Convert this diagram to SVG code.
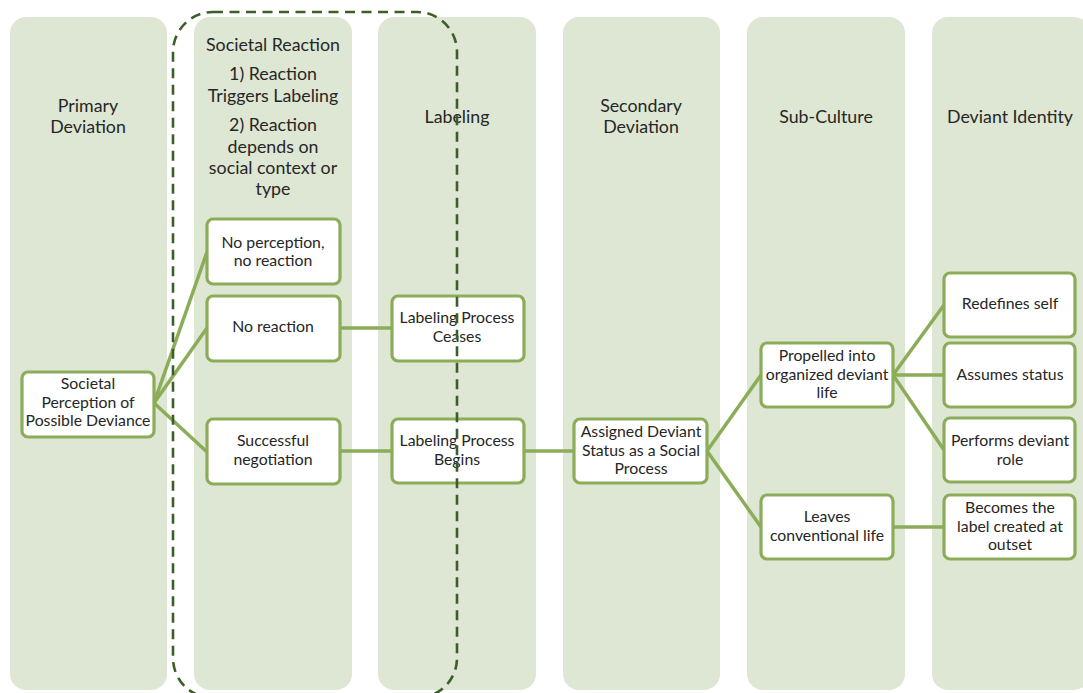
<svg xmlns="http://www.w3.org/2000/svg" width="1083" height="693" viewBox="0 0 1083 693">
  <style>
    .col { fill: #dee7d3; }
    .box { fill: #ffffff; stroke: #8bad59; stroke-width: 3.2; }
    .link { fill: none; stroke: #8bad59; stroke-width: 3.5; }
    .hdr { font-family: Lato, "Open Sans", "Liberation Sans", sans-serif; font-size: 17.8px; fill: #262626; text-anchor: middle; }
    .lbl { font-family: Lato, "Open Sans", "Liberation Sans", sans-serif; font-size: 15.8px; fill: #262626; text-anchor: middle; }
    .group { fill: none; stroke: #3b5e2a; stroke-width: 2.6; stroke-dasharray: 10 6.5; }
  </style>

  <!-- stage columns -->
  <g id="stages">
    <g id="col-primary">
      <rect class="col" x="10" y="17" width="157" height="673" rx="16"/>
      <text class="hdr" x="88"><tspan x="88" y="112">Primary</tspan><tspan x="88" y="133">Deviation</tspan></text>
    </g>
    <g id="col-reaction">
      <rect class="col" x="194" y="17" width="158" height="673" rx="16"/>
      <text class="hdr" x="273"><tspan x="273" y="51">Societal Reaction</tspan><tspan x="273" y="80">1) Reaction</tspan><tspan x="273" y="102">Triggers Labeling</tspan><tspan x="273" y="131">2) Reaction</tspan><tspan x="273" y="153">depends on</tspan><tspan x="273" y="174">social context or</tspan><tspan x="273" y="195">type</tspan></text>
    </g>
    <g id="col-labeling">
      <rect class="col" x="378" y="17" width="158" height="673" rx="16"/>
      <text class="hdr" x="457" y="123">Labeling</text>
    </g>
    <g id="col-secondary">
      <rect class="col" x="563" y="17" width="157" height="673" rx="16"/>
      <text class="hdr" x="641"><tspan x="641" y="112">Secondary</tspan><tspan x="641" y="133">Deviation</tspan></text>
    </g>
    <g id="col-subculture">
      <rect class="col" x="747" y="17" width="158" height="673" rx="16"/>
      <text class="hdr" x="826" y="123">Sub-Culture</text>
    </g>
    <g id="col-identity">
      <rect class="col" x="932" y="17" width="158" height="673" rx="16"/>
      <text class="hdr" x="1010" y="123">Deviant Identity</text>
    </g>
  </g>

  <!-- connectors -->
  <g id="connectors">
    <path class="link" d="M154 403 L207 252"/>
    <path class="link" d="M154 403 L207 328"/>
    <path class="link" d="M154 403 L207 452"/>
    <path class="link" d="M340 328 L392 328"/>
    <path class="link" d="M340 451 L392 451"/>
    <path class="link" d="M524 451 L574 451"/>
    <path class="link" d="M707 451 L761 375"/>
    <path class="link" d="M707 451 L761 527"/>
    <path class="link" d="M893 375 L944 305"/>
    <path class="link" d="M893 375 L944 375"/>
    <path class="link" d="M893 375 L944 450"/>
    <path class="link" d="M893 527 L944 527"/>
  </g>

  <!-- process nodes -->
  <g id="n-perception">
    <rect class="box" x="22" y="372" width="132" height="65" rx="6"/>
    <text class="lbl"><tspan x="88" y="389">Societal</tspan><tspan x="88" y="408">Perception of</tspan><tspan x="88" y="426">Possible Deviance</tspan></text>
  </g>
  <g id="n-no-perception">
    <rect class="box" x="207" y="219" width="133" height="65" rx="6"/>
    <text class="lbl"><tspan x="273" y="248">No perception,</tspan><tspan x="273" y="266">no reaction</tspan></text>
  </g>
  <g id="n-no-reaction">
    <rect class="box" x="207" y="296" width="133" height="65" rx="6"/>
    <text class="lbl" x="273" y="332">No reaction</text>
  </g>
  <g id="n-negotiation">
    <rect class="box" x="207" y="419" width="133" height="65" rx="6"/>
    <text class="lbl"><tspan x="273" y="446">Successful</tspan><tspan x="273" y="465">negotiation</tspan></text>
  </g>
  <g id="n-ceases">
    <rect class="box" x="392" y="296" width="132" height="65" rx="6"/>
    <text class="lbl"><tspan x="457" y="323">Labeling Process</tspan><tspan x="457" y="342">Ceases</tspan></text>
  </g>
  <g id="n-begins">
    <rect class="box" x="392" y="419" width="132" height="64" rx="6"/>
    <text class="lbl"><tspan x="457" y="446">Labeling Process</tspan><tspan x="457" y="465">Begins</tspan></text>
  </g>
  <g id="n-assigned">
    <rect class="box" x="574" y="419" width="133" height="64" rx="6"/>
    <text class="lbl"><tspan x="641" y="437">Assigned Deviant</tspan><tspan x="641" y="456">Status as a Social</tspan><tspan x="641" y="474">Process</tspan></text>
  </g>
  <g id="n-propelled">
    <rect class="box" x="761" y="343" width="132" height="64" rx="6"/>
    <text class="lbl"><tspan x="827" y="361">Propelled into</tspan><tspan x="827" y="380">organized deviant</tspan><tspan x="827" y="398">life</tspan></text>
  </g>
  <g id="n-leaves">
    <rect class="box" x="761" y="495" width="132" height="64" rx="6"/>
    <text class="lbl"><tspan x="827" y="522">Leaves</tspan><tspan x="827" y="541">conventional life</tspan></text>
  </g>
  <g id="n-redefines">
    <rect class="box" x="944" y="273" width="131" height="64" rx="6"/>
    <text class="lbl" x="1010" y="309">Redefines self</text>
  </g>
  <g id="n-assumes">
    <rect class="box" x="944" y="343" width="131" height="64" rx="6"/>
    <text class="lbl" x="1010" y="380">Assumes status</text>
  </g>
  <g id="n-performs">
    <rect class="box" x="944" y="418" width="131" height="64" rx="6"/>
    <text class="lbl"><tspan x="1010" y="446">Performs deviant</tspan><tspan x="1010" y="465">role</tspan></text>
  </g>
  <g id="n-becomes">
    <rect class="box" x="944" y="495" width="131" height="64" rx="6"/>
    <text class="lbl"><tspan x="1010" y="513">Becomes the</tspan><tspan x="1010" y="532">label created at</tspan><tspan x="1010" y="550">outset</tspan></text>
  </g>

  <!-- dashed outline around reaction and labeling stages -->
  <g id="reaction-labeling-outline">
    <rect class="group" x="173" y="12" width="284" height="686" rx="40"/>
  </g>
</svg>
